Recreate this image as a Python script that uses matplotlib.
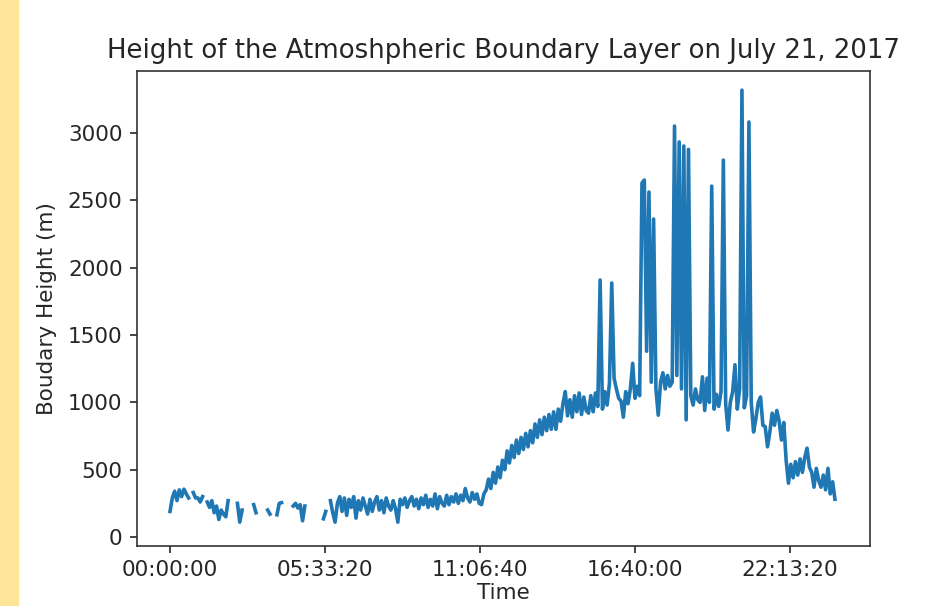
import numpy as np
import matplotlib
matplotlib.use("Agg")
import matplotlib.pyplot as plt
from matplotlib.ticker import FuncFormatter, MultipleLocator
from matplotlib.patches import Rectangle

# boundary layer height, one reading every 5 minutes (nan = no retrieval)
step_seconds = 300
nan = np.nan
heights = [
    # 00h
    190, 290, 340, 270, 350, 300, 355, 320, 290, nan, 330, 290,
    # 01h
    290, 260, 300, nan, 260, 220, 270, 180, 230, 130, 200, 170,
    # 02h
    150, 270, nan, nan, nan, 250, 110, 200, nan, nan, nan, nan,
    # 03h
    240, 180, nan, nan, nan, nan, 200, 170, nan, nan, 165, 250,
    # 04h
    255, nan, nan, nan, nan, 230, 250, 215, 240, 120, 230, nan,
    # 05h
    nan, nan, nan, nan, nan, nan, 135, 190, nan, 270, 180, 110,
    # 06h
    250, 300, 190, 290, 160, 280, 220, 300, 140, 270, 200, 290,
    # 07h
    230, 170, 280, 190, 260, 300, 200, 270, 180, 290, 230, 200,
    # 08h
    270, 210, 110, 280, 240, 290, 220, 270, 300, 230, 280, 210,
    # 09h
    290, 240, 310, 220, 280, 230, 320, 210, 300, 250, 230, 310,
    # 10h
    240, 300, 260, 320, 250, 310, 270, 360, 290, 260, 330, 280,
    # 11h
    320, 250, 240, 320, 350, 430, 360, 480, 400, 520, 440, 570,
    # 12h
    500, 640, 550, 680, 590, 720, 620, 740, 650, 770, 670, 790,
    # 13h
    700, 840, 740, 870, 760, 890, 790, 910, 800, 930, 800, 950,
    # 14h
    860, 990, 1080, 900, 1020, 890, 1050, 930, 1070, 910, 1040, 940,
    # 15h
    920, 1050, 930, 1070, 970, 1909, 950, 1080, 980, 1140, 1887, 1180,
    # 16h
    1100, 1030, 1010, 890, 1080, 990, 1100, 1290, 1030, 1120, 1050, 2630,
    # 17h
    2652, 1380, 2563, 1150, 2362, 1100, 905, 1150, 1220, 1100, 1200, 1120,
    # 18h
    1150, 3053, 1200, 2935, 1100, 2905, 870, 2880, 1050, 980, 1100, 1020,
    # 19h
    1000, 1190, 940, 1180, 1000, 2607, 950, 1060, 970, 1080, 2800, 990,
    # 20h
    795, 1000, 1080, 1280, 950, 1100, 3320, 960, 1050, 3083, 1000, 780,
    # 21h
    880, 1000, 1040, 830, 820, 670, 780, 920, 830, 940, 860, 720,
    # 22h
    850, 570, 400, 540, 440, 560, 460, 580, 480, 590, 660, 520,
    # 23h
    480, 370, 510, 420, 370, 460, 350, 510, 320, 410, 280,
]
seconds = np.arange(len(heights)) * step_seconds


def hms(x, pos):
    x = int(round(x))
    return "%02d:%02d:%02d" % (x // 3600, (x % 3600) // 60, x % 60)


fig = plt.figure(figsize=(9.41, 6.06), dpi=100)
fig.patches.append(Rectangle((0, 0), 18 / 941, 1, transform=fig.transFigure,
                             color="#ffe598", zorder=0))
ax = fig.add_axes([137 / 941, 60 / 606, 733 / 941, 475 / 606])
ax.plot(seconds, heights, color="#1f77b4", lw=2.6)

ax.xaxis.set_major_locator(MultipleLocator(20000))
ax.xaxis.set_major_formatter(FuncFormatter(hms))
ax.set_xlim(-4258, 90323)
ax.set_ylim(-67, 3462)
ax.set_yticks([0, 500, 1000, 1500, 2000, 2500, 3000])

ax.tick_params(labelsize=15.5, length=5.2, width=1.2, pad=5.2, colors="#262626", labelcolor="#262626")
for s in ax.spines.values():
    s.set_linewidth(1.2)
    s.set_color("#333333")

ax.set_title("Height of the Atmoshpheric Boundary Layer on July 21, 2017", fontsize=18.7, pad=9, color="#262626")
ax.set_xlabel("Time", fontsize=15.5, labelpad=2, color="#262626")
ax.set_ylabel("Boudary Height (m)", fontsize=15.5, labelpad=8, color="#262626")

fig.savefig("out.png", dpi=100)
